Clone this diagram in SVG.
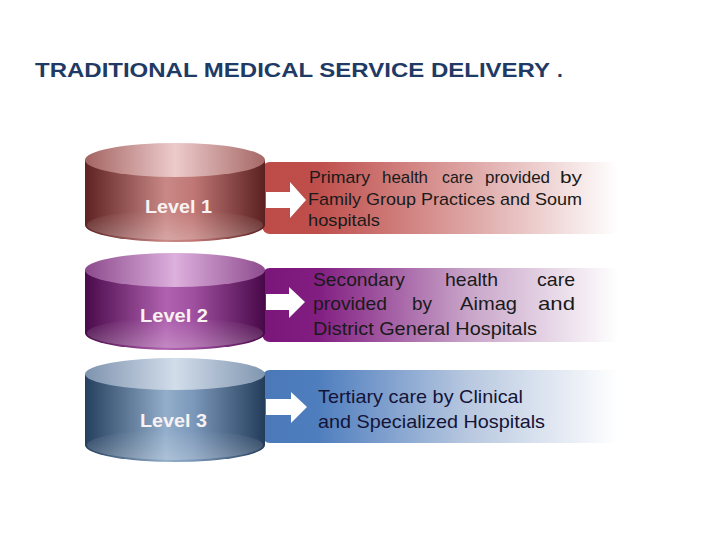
<svg xmlns="http://www.w3.org/2000/svg" width="720" height="540" viewBox="0 0 720 540">
<style>
text{font-family:"Liberation Sans",Arial,sans-serif}
.title{font-weight:bold;font-size:21px;fill:#1F3A64}
.lvl{font-weight:bold;font-size:18px;fill:#F8F2F2;text-anchor:middle}
.d1{font-size:17px;fill:#1A1A1A}
.d2{font-size:19px;fill:#1A1A1A}
.d3{font-size:19px;fill:#141438}
.arrow{fill:#FFFFFF}
</style>
<defs>
<linearGradient id="body1" x1="0" y1="0" x2="1" y2="0">
<stop offset="0" stop-color="#5E2222"/><stop offset="0.45" stop-color="#C98886"/><stop offset="0.6" stop-color="#C07875"/><stop offset="1" stop-color="#5A2020"/>
</linearGradient>
<linearGradient id="top1" x1="0" y1="0" x2="1" y2="0">
<stop offset="0" stop-color="#A36462"/><stop offset="0.5" stop-color="#EDCBCB"/><stop offset="1" stop-color="#A56866"/>
</linearGradient>
<linearGradient id="band1" x1="0" y1="0" x2="1" y2="0">
<stop offset="0" stop-color="#BE4B48"/><stop offset="0.15" stop-color="#BF4F4C"/><stop offset="0.55" stop-color="#DDA5A4"/><stop offset="0.95" stop-color="#FFFFFF"/>
</linearGradient>
<linearGradient id="body2" x1="0" y1="0" x2="1" y2="0">
<stop offset="0" stop-color="#4A0A4A"/><stop offset="0.45" stop-color="#B062B0"/><stop offset="0.6" stop-color="#A050A0"/><stop offset="1" stop-color="#480848"/>
</linearGradient>
<linearGradient id="top2" x1="0" y1="0" x2="1" y2="0">
<stop offset="0" stop-color="#8C4A8C"/><stop offset="0.5" stop-color="#DDB0DD"/><stop offset="1" stop-color="#8E4C8E"/>
</linearGradient>
<linearGradient id="band2" x1="0" y1="0" x2="1" y2="0">
<stop offset="0" stop-color="#7A157A"/><stop offset="0.15" stop-color="#821E82"/><stop offset="0.55" stop-color="#C8A4C8"/><stop offset="0.95" stop-color="#FFFFFF"/>
</linearGradient>
<linearGradient id="body3" x1="0" y1="0" x2="1" y2="0">
<stop offset="0" stop-color="#253F5E"/><stop offset="0.45" stop-color="#93AECB"/><stop offset="0.6" stop-color="#7C98BA"/><stop offset="1" stop-color="#233C5A"/>
</linearGradient>
<linearGradient id="top3" x1="0" y1="0" x2="1" y2="0">
<stop offset="0" stop-color="#7E93AE"/><stop offset="0.5" stop-color="#D2DDEA"/><stop offset="1" stop-color="#8096B0"/>
</linearGradient>
<linearGradient id="band3" x1="0" y1="0" x2="1" y2="0">
<stop offset="0" stop-color="#4A78B8"/><stop offset="0.15" stop-color="#4F7EBE"/><stop offset="0.55" stop-color="#B8C8E0"/><stop offset="0.95" stop-color="#FFFFFF"/>
</linearGradient>
<linearGradient id="shine" x1="0" y1="0" x2="0" y2="1">
<stop offset="0" stop-color="#FFFFFF" stop-opacity="0"/><stop offset="1" stop-color="#FFFFFF" stop-opacity="0.25"/>
</linearGradient>
</defs>
<rect width="720" height="540" fill="#FFFFFF"/>
<text class="title" x="35" y="77" textLength="515" lengthAdjust="spacingAndGlyphs">TRADITIONAL MEDICAL SERVICE DELIVERY</text>
<text class="title" x="557" y="77">.</text>

<g id="band-1">
<rect x="262" y="162" width="375" height="72" rx="8" fill="url(#band1)"/>
<text class="d1" x="309" y="183" textLength="61" lengthAdjust="spacingAndGlyphs">Primary</text>
<text class="d1" x="382" y="183" textLength="46" lengthAdjust="spacingAndGlyphs">health</text>
<text class="d1" x="442" y="183" textLength="31" lengthAdjust="spacingAndGlyphs">care</text>
<text class="d1" x="485" y="183" textLength="65" lengthAdjust="spacingAndGlyphs">provided</text>
<text class="d1" x="560" y="183" textLength="22" lengthAdjust="spacingAndGlyphs">by</text>
<text class="d1" x="308" y="205" textLength="274" lengthAdjust="spacingAndGlyphs">Family Group Practices and Soum</text>
<text class="d1" x="308" y="226" textLength="72" lengthAdjust="spacingAndGlyphs">hospitals</text>
</g>
<g id="band-2">
<rect x="262" y="268" width="375" height="74" rx="8" fill="url(#band2)"/>
<text class="d2" x="313" y="286" textLength="92" lengthAdjust="spacingAndGlyphs">Secondary</text>
<text class="d2" x="445" y="286" textLength="53" lengthAdjust="spacingAndGlyphs">health</text>
<text class="d2" x="537" y="286" textLength="38" lengthAdjust="spacingAndGlyphs">care</text>
<text class="d2" x="313" y="310" textLength="74" lengthAdjust="spacingAndGlyphs">provided</text>
<text class="d2" x="412" y="310" textLength="20" lengthAdjust="spacingAndGlyphs">by</text>
<text class="d2" x="460" y="310" textLength="57" lengthAdjust="spacingAndGlyphs">Aimag</text>
<text class="d2" x="538" y="310" textLength="37" lengthAdjust="spacingAndGlyphs">and</text>
<text class="d2" x="313" y="335" textLength="224" lengthAdjust="spacingAndGlyphs">District General Hospitals</text>
</g>
<g id="band-3">
<rect x="262" y="370" width="375" height="73" rx="8" fill="url(#band3)"/>
<text class="d3" x="318" y="403" textLength="205" lengthAdjust="spacingAndGlyphs">Tertiary care by Clinical</text>
<text class="d3" x="318" y="428" textLength="227" lengthAdjust="spacingAndGlyphs">and Specialized Hospitals</text>
</g>

<g id="level-1">
<path d="M85,160 L85,225 A90,17 0 0 0 265,225 L265,160 Z" fill="url(#body1)"/>
<ellipse cx="175" cy="225" rx="88" ry="15" fill="url(#shine)"/>
<ellipse cx="175" cy="160" rx="90" ry="17" fill="url(#top1)"/>
<text class="lvl" x="178.5" y="213" textLength="67" lengthAdjust="spacingAndGlyphs">Level 1</text>
</g>
<g id="level-2">
<path d="M85,270 L85,333 A90,17 0 0 0 265,333 L265,270 Z" fill="url(#body2)"/>
<ellipse cx="175" cy="333" rx="88" ry="15" fill="url(#shine)"/>
<ellipse cx="175" cy="270" rx="90" ry="17" fill="url(#top2)"/>
<text class="lvl" x="174" y="322" textLength="68" lengthAdjust="spacingAndGlyphs">Level 2</text>
</g>
<g id="level-3">
<path d="M85,374 L85,445 A90,17 0 0 0 265,445 L265,374 Z" fill="url(#body3)"/>
<ellipse cx="175" cy="445" rx="88" ry="15" fill="url(#shine)"/>
<ellipse cx="175" cy="374" rx="90" ry="16" fill="url(#top3)"/>
<text class="lvl" x="173.5" y="427" textLength="67" lengthAdjust="spacingAndGlyphs">Level 3</text>
</g>

<g id="connectors">
<polygon class="arrow" points="266,192 290,192 290,182 306,200 290,218 290,208 266,208"/>
<polygon class="arrow" points="266,294 289,294 289,287 305,302 289,318 289,310 266,310"/>
<polygon class="arrow" points="266,399 291,399 291,392 307,407 291,423 291,415 266,415"/>
</g>
</svg>
